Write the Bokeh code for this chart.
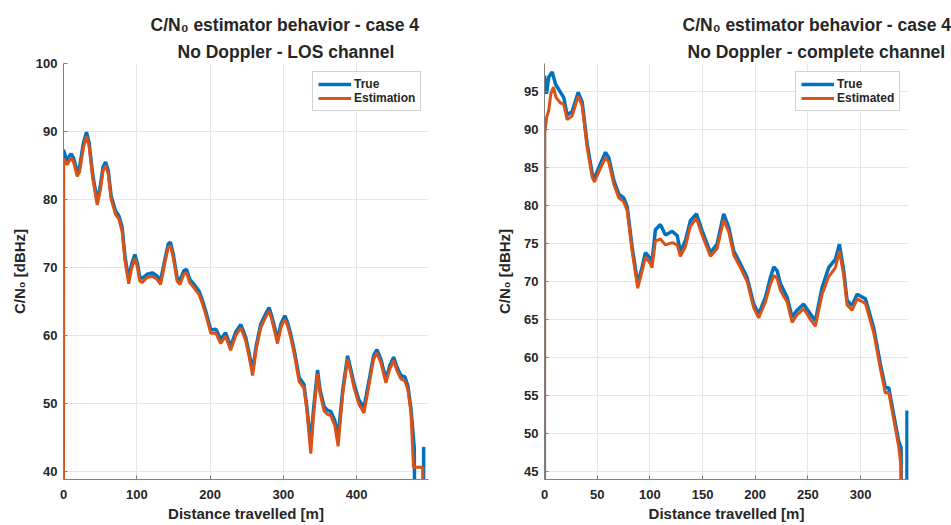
from bokeh.plotting import figure
from bokeh.layouts import row
from bokeh.models import Range1d, Title, Legend, LegendItem, FixedTicker
from bokeh.embed import file_html
from bokeh.resources import INLINE

# ---------------- Left panel: LOS channel ----------------
los_title1 = "C/N\u2080 estimator behavior - case 4"
los_title2 = "No Doppler - LOS channel"
los_true_x = [0, 3, 5, 8, 10.5, 14, 18.7, 22, 27, 31.4, 35, 40, 46, 50, 54, 57.4, 61, 65, 71, 75.5, 80, 84, 89, 93, 97.4,
              101, 104, 107.5, 114, 121, 127, 132.5, 139, 143, 146, 150, 155, 159, 164, 168, 172, 178, 185, 190, 194,
              201, 208, 214.5, 221, 228, 235, 242, 248.6, 253, 258, 263, 269, 275, 280.5, 285, 292, 297, 302, 306, 310,
              315, 321.5, 328, 332, 337.4, 341, 346.6, 350, 355.6, 360, 364.8, 370, 374.7, 381, 387.6, 392, 396.6, 403,
              410, 418, 423, 427.6, 433, 439.9, 445, 450.4, 455, 460.4, 465.8, 470, 474, 478.6, 479.5, 491.2, 491.4]
los_true_y = [87.3, 86.2, 85.7, 86.4, 86.7, 86.0, 84.0, 84.8, 88.2, 89.9, 88.3, 83.5, 79.8, 81.8, 84.8, 85.5, 84.3, 80.5,
              78.3, 77.6, 75.9, 71.5, 68.3, 70.5, 71.9, 70.5, 68.6, 68.4, 69.0, 69.2, 68.8, 68.1, 71.5, 73.5, 73.7, 71.8,
              68.5, 68.1, 69.5, 69.7, 68.3, 67.5, 66.5, 65.0, 63.6, 60.8, 60.9, 59.4, 60.4, 58.4, 60.5, 61.6, 59.7, 57.5,
              54.8, 58.5, 61.6, 63.0, 64.1, 62.5, 59.4, 61.8, 62.9, 61.8, 60.2, 57.7, 53.8, 52.8, 49.5, 44.0, 49.0, 54.9,
              52.0, 49.5, 49.0, 48.8, 47.5, 45.1, 52.0, 57.0, 55.0, 52.8, 50.5, 49.4, 54.0, 57.0, 57.9, 56.5, 53.6, 55.5,
              56.8, 55.3, 54.1, 53.9, 52.5, 49.3, 43.4, 30.0, 30.0, 43.6]
los_est_x = [0, 0.3, 3, 5, 8, 10.5, 14, 18.7, 22, 27, 31.4, 35, 40, 46, 50, 54, 57.4, 61, 65, 71, 75.5, 80, 84, 89, 93,
             97.4, 101, 104, 107.5, 114, 121, 127, 132.5, 139, 143, 146, 150, 155, 159, 164, 168, 172, 178, 185, 190,
             194, 201, 208, 214.5, 221, 228, 235, 242, 248.6, 253, 258, 263, 269, 275, 280.5, 285, 292, 297, 302, 306,
             310, 315, 321.5, 328, 332, 337.4, 341, 346.6, 350, 355.6, 360, 364.8, 370, 374.7, 381, 387.6, 392, 396.6,
             403, 410, 418, 423, 427.6, 433, 439.9, 445, 450.4, 455, 460.4, 465.8, 470, 474, 477.5, 490, 490.2]
los_est_y = [30.0, 86.0, 85.5, 85.1, 85.7, 86.1, 85.4, 83.4, 84.1, 87.5, 89.3, 87.8, 83.0, 79.2, 81.2, 84.2, 85.0, 83.8,
             80.0, 77.8, 77.1, 75.3, 70.9, 67.6, 69.9, 71.3, 70.0, 68.0, 67.8, 68.5, 68.7, 68.3, 67.5, 71.0, 73.0, 73.2,
             71.3, 68.0, 67.5, 69.0, 69.2, 67.8, 67.0, 66.0, 64.5, 63.1, 60.3, 60.3, 58.8, 59.9, 57.8, 60.0, 61.1, 59.2,
             57.0, 54.1, 58.0, 61.1, 62.5, 63.6, 62.0, 58.8, 61.3, 62.4, 61.3, 59.7, 57.2, 53.2, 52.3, 49.0, 42.6, 48.0,
             54.3, 51.5, 48.9, 48.4, 48.2, 46.8, 43.7, 51.4, 56.5, 54.5, 52.2, 49.9, 48.6, 53.4, 56.5, 57.4, 56.0, 53.0,
             55.0, 56.3, 54.8, 53.6, 53.3, 52.0, 48.7, 40.6, 40.6, 30.0]
los_xticks = [0, 100, 200, 300, 400]
los_yticks = [40, 50, 60, 70, 80, 90, 100]
los_labels = ["True", "Estimation"]

# ---------------- Right panel: complete channel ----------------
cc_title1 = "C/N\u2080 estimator behavior - case 4"
cc_title2 = "No Doppler - complete channel"
cc_true_x = [0, 1.9, 4, 7.3, 10.4, 15.2, 18.3, 21.5, 26.3, 32, 35.8, 40.5, 45.3, 47.4, 53.1, 57.9, 61, 65.8, 70.5, 75.2,
             78.5, 83.2, 88.5, 92.7, 95.8, 100.6, 102, 105.3, 110, 114.8, 121.2, 126, 129, 133.8, 138.5, 144.2, 149.6,
             157.5, 163.8, 170.1, 174.9, 179.6, 186, 192.3, 198.6, 203.3, 209.7, 214.4, 217.6, 220.8, 223.9, 230.3,
             235, 239.7, 246, 252.4, 257.1, 263.5, 269.7, 276.1, 279.9, 284, 287.2, 292, 296.7, 304.6, 312.4, 318.8,
             323.5, 326.7, 331.4, 336.1, 338.4, 339.4, 344, 344.1]
cc_true_y = [97.1, 94.7, 96.9, 97.6, 96.0, 94.9, 94.2, 91.9, 92.4, 94.9, 93.6, 88.1, 84.2, 83.6, 85.5, 87.0, 86.3, 83.3,
             81.5, 81.0, 79.8, 74.5, 69.7, 71.9, 73.8, 73.0, 72.5, 76.8, 77.5, 76.1, 76.6, 76.0, 73.9, 75.4, 78.0, 78.9,
             76.7, 73.8, 74.9, 78.9, 77.1, 74.0, 72.3, 70.5, 67.0, 65.7, 67.9, 70.5, 71.9, 71.4, 69.7, 67.9, 65.3, 66.2,
             67.0, 65.7, 64.8, 69.2, 71.8, 72.9, 74.9, 71.4, 67.5, 66.8, 68.3, 67.7, 63.9, 59.1, 56.0, 56.0, 52.5, 49.0,
             48.1, 30.0, 30.0, 53.0]
cc_est_x = [0, 0.3, 2, 4, 6, 8.5, 11, 15.2, 18.3, 21.5, 26.3, 32, 35.8, 40.5, 45.3, 47.4, 53.1, 57.9, 61, 65.8, 70.5,
            75.2, 78.5, 83.2, 88.5, 92.7, 95.8, 100.6, 102, 105.3, 110, 114.8, 121.2, 126, 129, 133.8, 138.5, 144.2,
            149.6, 157.5, 163.8, 170.1, 174.9, 179.6, 186, 192.3, 198.6, 203.3, 209.7, 214.4, 217.6, 220.8, 223.9,
            230.3, 235, 239.7, 246, 252.4, 257.1, 263.5, 269.7, 276.1, 279.9, 284, 287.2, 292, 296.7, 304.6, 312.4,
            318.8, 323.5, 326.7, 331.4, 336.1, 338.4, 339.2]
cc_est_y = [30.0, 89.5, 91.6, 92.5, 94.7, 95.6, 94.2, 93.5, 93.3, 91.3, 91.8, 94.4, 93.1, 87.6, 83.7, 83.1, 84.9, 86.3,
            85.7, 82.8, 81.0, 80.5, 79.3, 74.0, 69.1, 71.4, 73.2, 72.3, 71.8, 75.3, 75.6, 74.8, 75.1, 74.8, 73.3, 74.6,
            77.3, 78.3, 76.1, 73.3, 74.3, 78.1, 76.5, 73.5, 71.8, 70.0, 66.5, 65.2, 67.3, 69.6, 70.8, 70.4, 68.8, 67.3,
            64.6, 65.6, 66.4, 65.0, 64.1, 68.3, 70.6, 71.8, 74.0, 70.8, 66.9, 66.2, 67.7, 67.1, 63.3, 58.5, 55.3, 55.4,
            51.9, 48.3, 45.7, 30.0]
cc_xticks = [0, 50, 100, 150, 200, 250, 300]
cc_yticks = [45, 50, 55, 60, 65, 70, 75, 80, 85, 90, 95]
cc_labels = ["True", "Estimated"]

x_label = "Distance travelled [m]"
y_label = "C/N\u2080 [dBHz]"

BLUE = "#0072BD"
ORANGE = "#D95319"
FONT = "Liberation Sans"
TXT = "#262626"
AXC = "#808080"


def make_panel(title1, title2, tx, ty, ex, ey, xticks, yticks, labels, xr, yr, width, bl, br,
               off1, off2, ylab_standoff, legx):
    p = figure(width=width, height=525, x_range=Range1d(*xr), y_range=Range1d(*yr),
               output_backend="svg", toolbar_location=None,
               min_border_left=bl, min_border_right=br, min_border_top=63, min_border_bottom=46)
    p.outline_line_color = None
    p.background_fill_color = "white"
    p.border_fill_color = "white"

    # outer title line (first in the 'above' list is drawn farthest from the frame)
    p.title.text = title1
    p.title.align = "left"
    p.title.offset = off1
    p.title.text_font = FONT
    p.title.text_font_size = "17.5px"
    p.title.text_font_style = "bold"
    p.title.text_color = TXT
    p.title.standoff = 8
    t2 = Title(text=title2, align="left", offset=off2, text_font=FONT, text_font_size="17.5px",
               text_font_style="bold", text_color=TXT, standoff=3)
    p.add_layout(t2, "above")

    for ax in (p.xaxis[0], p.yaxis[0]):
        ax.axis_line_color = AXC
        ax.major_tick_line_color = AXC
        ax.major_tick_in = 4
        ax.major_tick_out = 0
        ax.minor_tick_line_color = None
        ax.major_label_text_font = FONT
        ax.major_label_text_font_style = "bold"
        ax.major_label_text_font_size = "13px"
        ax.major_label_text_color = TXT
        ax.axis_label_text_font = FONT
        ax.axis_label_text_font_style = "bold"
        ax.axis_label_text_font_size = "15px"
        ax.axis_label_text_color = TXT
    p.xaxis[0].ticker = FixedTicker(ticks=xticks)
    p.yaxis[0].ticker = FixedTicker(ticks=yticks)
    p.xaxis[0].axis_label = x_label
    p.yaxis[0].axis_label = y_label
    p.xaxis[0].major_label_standoff = 10
    p.xaxis[0].axis_label_standoff = 3
    p.yaxis[0].major_label_standoff = 6
    p.yaxis[0].axis_label_standoff = ylab_standoff

    p.xgrid.ticker = FixedTicker(ticks=xticks)
    p.ygrid.ticker = FixedTicker(ticks=yticks)
    p.grid.grid_line_color = "#e6e6e6"
    p.grid.grid_line_width = 1

    r1 = p.line(tx, ty, line_color=BLUE, line_width=3.5)
    r2 = p.line(ex, ey, line_color=ORANGE, line_width=3)

    leg = Legend(items=[LegendItem(label=labels[0], renderers=[r1]),
                        LegendItem(label=labels[1], renderers=[r2])],
                 location=(legx, 368), orientation="vertical",
                 label_text_font=FONT, label_text_font_style="bold", label_text_font_size="12px",
                 label_text_color=TXT, glyph_width=33, glyph_height=14, label_height=14,
                 label_standoff=3, padding=5, spacing=0, margin=0,
                 border_line_color="#a6a6a6", border_line_width=1, background_fill_color="white",
                 background_fill_alpha=1.0)
    p.add_layout(leg)
    return p


left = make_panel(los_title1, los_title2, los_true_x, los_true_y, los_est_x, los_est_y,
                  los_xticks, los_yticks, los_labels, (0, 498), (38.8, 100), 480, 63, 52,
                  87, 114, 5, 249)
right = make_panel(cc_title1, cc_title2, cc_true_x, cc_true_y, cc_est_x, cc_est_y,
                   cc_xticks, cc_yticks, cc_labels, (0, 345.5), (43.9, 98.7), 471, 64, 43,
                   138, 143, 8, 251)

layout = row(left, right)
open("out.html", "w").write(file_html(layout, INLINE))
